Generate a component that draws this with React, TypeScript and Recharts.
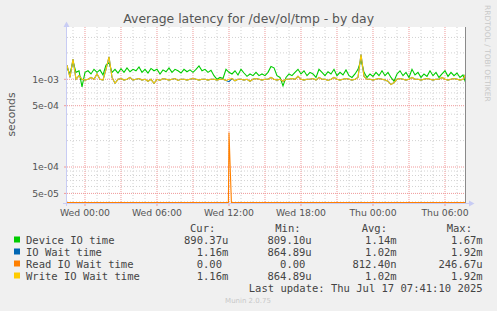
import React from 'react';
import { ComposedChart, Line, XAxis, YAxis, CartesianGrid } from 'recharts';

// ---- time grid (hours relative to Wed 00:00), 15-minute samples ----
const START_HOUR = -1.5;
const STEP_HOURS = 0.25;
const END_HOUR = 31.667;

// ---- series values, in milliseconds ----
const DEVICE_IO_MS = [
  1.35, 1.15, 1.6, 1.2, 1.25, 0.82, 1.2, 1.25, 1.15, 1.3,
  1.2, 1.28, 1.12, 1.45, 1.55, 1.2, 1.3, 1.18, 1.32, 1.2,
  1.35, 1.22, 1.3, 1.25, 1.38, 1.2, 1.3, 1.18, 1.33, 1.25,
  1.3, 1.15, 1.28, 1.22, 1.35, 1.2, 1.3, 1.25, 1.18, 1.3,
  1.22, 1.28, 1.2, 1.3, 1.42, 1.25, 1.3, 1.2, 1.27, 1.1,
  1.0, 1.05, 1.02, 1.3, 1.2, 1.15, 1.25, 1.12, 1.3, 1.18,
  1.08, 1.15, 1.1, 1.2, 1.1, 1.15, 1.1, 1.2, 1.4, 1.35,
  1.1, 1.05, 0.84, 1.05, 1.15, 1.1, 1.2, 1.3, 1.15, 1.25,
  1.1, 1.2, 1.15, 1.05, 1.3, 1.2, 1.1, 1.22, 1.15, 1.3,
  1.1, 1.2, 1.12, 1.28, 1.1, 1.05, 1.15, 1.3, 1.67, 1.2,
  1.05, 1.15, 1.08, 1.2, 1.1, 1.25, 1.1, 1.2, 1.05, 0.95,
  1.15, 1.25, 1.1, 1.2, 1.05, 1.3, 1.12, 1.2, 1.05, 1.15,
  1.08, 1.25, 1.1, 1.2, 1.05, 1.15, 1.25, 1.08, 1.2, 1.1,
  1.18, 1.05, 1.12, 0.89,
];

const IO_WAIT_MS = [
  1.45, 1.05, 1.7, 1.0, 1.1, 1.0, 0.98, 1.0, 1.05, 1.0,
  1.15, 1.0, 0.98, 1.3, 1.8, 1.05, 0.9, 1.0, 1.02, 0.98,
  1.0, 1.05, 0.98, 1.0, 1.02, 0.98, 1.0, 0.95, 1.0, 0.9,
  1.0, 0.97, 1.02, 1.0, 0.98, 1.0, 1.02, 0.97, 1.0, 1.0,
  0.98, 1.0, 1.02, 1.0, 0.98, 1.0, 1.0, 0.98, 1.0, 1.0,
  0.98, 1.0, 1.0, 0.97, 0.94, 1.02, 0.96, 1.0, 1.0, 0.98,
  1.0, 0.95, 1.0, 1.02, 1.0, 0.98, 1.0, 1.0, 1.05, 1.0,
  0.98, 1.0, 0.95, 1.0, 1.0, 1.02, 1.0, 1.08, 1.0, 0.98,
  1.0, 1.0, 1.02, 0.98, 1.05, 1.0, 1.0, 0.97, 1.0, 1.05,
  1.0, 0.98, 1.0, 1.02, 1.0, 0.98, 1.0, 1.05, 1.92, 1.08,
  1.0, 1.0, 0.98, 1.0, 1.02, 1.0, 0.98, 0.95, 0.87, 0.92,
  1.0, 1.02, 1.0, 0.98, 1.0, 1.05, 1.0, 1.0, 0.98, 1.0,
  1.02, 1.0, 0.98, 1.0, 1.0, 1.05, 1.0, 0.98, 1.0, 1.02,
  1.0, 0.98, 1.0, 1.16,
];

const WRITE_IO_WAIT_MS = [
  1.45, 1.05, 1.7, 1.0, 1.1, 1.0, 0.98, 1.0, 1.05, 1.0,
  1.15, 1.0, 0.98, 1.3, 1.8, 1.05, 0.9, 1.0, 1.02, 0.98,
  1.0, 1.05, 0.98, 1.0, 1.02, 0.98, 1.0, 0.95, 1.0, 0.9,
  1.0, 0.97, 1.02, 1.0, 0.98, 1.0, 1.02, 0.97, 1.0, 1.0,
  0.98, 1.0, 1.02, 1.0, 0.98, 1.0, 1.0, 0.98, 1.0, 1.0,
  0.98, 1.0, 1.0, 0.97, 1.0, 1.02, 0.96, 1.0, 1.0, 0.98,
  1.0, 0.95, 1.0, 1.02, 1.0, 0.98, 1.0, 1.0, 1.05, 1.0,
  0.98, 1.0, 0.95, 1.0, 1.0, 1.02, 1.0, 1.08, 1.0, 0.98,
  1.0, 1.0, 1.02, 0.98, 1.05, 1.0, 1.0, 0.97, 1.0, 1.05,
  1.0, 0.98, 1.0, 1.02, 1.0, 0.98, 1.0, 1.05, 1.92, 1.08,
  1.0, 1.0, 0.98, 1.0, 1.02, 1.0, 0.98, 0.95, 0.87, 0.92,
  1.0, 1.02, 1.0, 0.98, 1.0, 1.05, 1.0, 1.0, 0.98, 1.0,
  1.02, 1.0, 0.98, 1.0, 1.0, 1.05, 1.0, 0.98, 1.0, 1.02,
  1.0, 0.98, 1.0, 1.16,
];

const READ_TIMES_H = [-1.5, 11.95, 12.0, 12.2, 31.75];
const READ_IO_WAIT_MS = [0, 0, 0.24667, 0, 0];

// ---- legend ----
const SERIES_NAMES = ['Device IO time', 'IO Wait time', 'Read IO Wait time', 'Write IO Wait time'];
const SERIES_COLORS = ['#00CC00', '#0066B3', '#FF8000', '#FFCC00'];
const CUR_VALUES = ['890.37u', '1.16m', '0.00', '1.16m'];
const MIN_VALUES = ['809.10u', '864.89u', '0.00', '864.89u'];
const AVG_VALUES = ['1.14m', '1.02m', '812.40n', '1.02m'];
const MAX_VALUES = ['1.67m', '1.92m', '246.67u', '1.92m'];
const COLUMN_HEADERS = ['Cur:', 'Min:', 'Avg:', 'Max:'];

// ---- axes ----
const X_TICKS = [0, 6, 12, 18, 24, 30];
const X_TICK_LABELS = ['Wed 00:00', 'Wed 06:00', 'Wed 12:00', 'Wed 18:00', 'Thu 00:00', 'Thu 06:00'];
const X_MAJOR = [0, 3, 6, 9, 12, 15, 18, 21, 24, 27, 30];
const X_MINOR = [-1, 1, 2, 4, 5, 7, 8, 10, 11, 13, 14, 16, 17, 19, 20, 22, 23, 25, 26, 28, 29, 31];
const Y_TICKS = [5e-5, 1e-4, 5e-4, 1e-3];
const Y_TICK_LABELS = ['5e-05', '1e-04', '5e-04', '1e-03'];
const Y_MINOR = [4e-5, 6e-5, 7e-5, 8e-5, 9e-5, 2e-4, 3e-4, 4e-4, 6e-4, 7e-4, 8e-4, 9e-4, 2e-3, 3e-3];
const Y_MIN = 3.887e-5;
const Y_MAX = 3.947e-3;
const Y_FLOOR = Y_MIN * 1.015;

const W = 497;
const H = 311;
const TEXT = '#555555';
const MONO = "'DejaVu Sans Mono', monospace";
const SANS = "'DejaVu Sans', sans-serif";
const CHAR_W = 6.33;
const COL_HEAD_X = [190, 275.3, 361.7, 446.7];
const COL_END_X = [228.3, 311.7, 396.7, 482.7];
const ROW_BASE = [243.5, 255.5, 267.5, 279.5];
const MINOR_STROKE = '#D2D2D2';
const MAJOR_STROKE = '#F09A9A';

const GRID_Y = [...Y_MINOR, ...Y_TICKS];
const GRID_X = [...X_MINOR, ...X_MAJOR];
const N_MINOR_Y = Y_MINOR.length;
const N_MINOR_X = X_MINOR.length;

const gridLine = (nMinor: number) => (p: any) => {
  const major = p.index >= nMinor;
  return (
    <line
      key={p.key}
      x1={p.x1}
      y1={p.y1}
      x2={p.x2}
      y2={p.y2}
      stroke={major ? MAJOR_STROKE : MINOR_STROKE}
      strokeWidth={1}
      strokeDasharray={major ? '1 1' : '1 2'}
      fill="none"
    />
  );
};

export default function App() {
  const rows = DEVICE_IO_MS.map((v, i) => ({
    t: START_HOUR + i * STEP_HOURS,
    dev: v / 1000,
    io: IO_WAIT_MS[i] / 1000,
    write: WRITE_IO_WAIT_MS[i] / 1000,
  }));
  const readRows = READ_TIMES_H.map((t, i) => ({ t, read: READ_IO_WAIT_MS[i] / 1000 }));
  const cols = [CUR_VALUES, MIN_VALUES, AVG_VALUES, MAX_VALUES];
  const valueX = (s: string, c: number) => (/[0-9]$/.test(s) ? COL_END_X[c] - CHAR_W : COL_END_X[c]);

  return (
    <div style={{ position: 'absolute', left: 0, top: 0, width: W, height: H, background: '#F0F0F0', overflow: 'hidden' }}>
      <ComposedChart width={W} height={H} data={rows} margin={{ top: 27, right: 32, bottom: 78, left: 7 }}>
        <CartesianGrid
          fill="#FFFFFF"
          stroke={MINOR_STROKE}
          horizontalValues={GRID_Y}
          verticalValues={GRID_X}
          horizontal={gridLine(N_MINOR_Y)}
          vertical={gridLine(N_MINOR_X)}
        />
        <XAxis
          dataKey="t"
          type="number"
          domain={[START_HOUR, END_HOUR]}
          allowDataOverflow
          ticks={X_TICKS}
          interval={0}
          tickFormatter={(v: number) => X_TICK_LABELS[X_TICKS.indexOf(v)] ?? ''}
          height={30}
          axisLine={false}
          tickLine={{ stroke: MAJOR_STROKE }}
          tickSize={3}
          tickMargin={3}
          tick={{ fontSize: 9.3, fill: TEXT, fontFamily: SANS }}
        />
        <YAxis
          type="number"
          scale="log"
          domain={[Y_MIN, Y_MAX]}
          allowDataOverflow
          ticks={Y_TICKS}
          interval={0}
          tickFormatter={(v: number) => Y_TICK_LABELS[Y_TICKS.indexOf(v)] ?? ''}
          width={60}
          axisLine={false}
          tickLine={{ stroke: MAJOR_STROKE }}
          tickSize={3}
          tickMargin={5}
          tick={{ fontSize: 9.3, fill: TEXT, fontFamily: SANS }}
        />
        <Line type="linear" dataKey="dev" stroke={SERIES_COLORS[0]} strokeWidth={1.1} dot={false} activeDot={false} isAnimationActive={false} />
        <Line type="linear" dataKey="io" stroke={SERIES_COLORS[1]} strokeWidth={1.1} dot={false} activeDot={false} isAnimationActive={false} />
        <Line
          type="linear"
          data={readRows}
          dataKey={(d: any) => (d.read > 0 ? d.read : Y_FLOOR)}
          stroke={SERIES_COLORS[2]}
          strokeWidth={1.1}
          dot={false}
          activeDot={false}
          isAnimationActive={false}
        />
        <Line type="linear" dataKey="write" stroke={SERIES_COLORS[3]} strokeWidth={1.1} dot={false} activeDot={false} isAnimationActive={false} />
      </ComposedChart>

      <svg width={W} height={H} style={{ position: 'absolute', left: 0, top: 0, pointerEvents: 'none' }}>
        {/* axes and frame */}
        <line x1={66.5} y1={25} x2={66.5} y2={206} stroke="#C8CCF4" strokeWidth={1} />
        <polygon points="63.5,27 69.5,27 66.5,21.5" fill="#C8CCF4" />
        <line x1={63} y1={203.5} x2={470} y2={203.5} stroke="#C8CCF4" strokeWidth={1} />
        <polygon points="469,200.5 469,206.5 474.5,203.5" fill="#C8CCF4" />
        <line x1={465.5} y1={27} x2={465.5} y2={203} stroke="#8A8A8A" strokeWidth={1} />

        {/* title */}
        <text x={248.7} y={22.5} textAnchor="middle" fontFamily={SANS} fontSize={12.4} fill={TEXT}>
          Average latency for /dev/ol/tmp - by day
        </text>
        {/* y label */}
        <text transform="translate(15,114.5) rotate(-90)" textAnchor="middle" fontFamily={SANS} fontSize={10.8} fill={TEXT}>
          seconds
        </text>
        {/* watermark */}
        <text transform="translate(484.8,5) rotate(90)" textAnchor="start" fontFamily={SANS} fontSize={7.5} fill="#C8C8C8">
          RRDTOOL / TOBI OETIKER
        </text>

        {/* legend */}
        {COLUMN_HEADERS.map((h, c) => (
          <text key={h} x={COL_HEAD_X[c]} y={231.5} fontFamily={MONO} fontSize={10.5} fill="#444">
            {h}
          </text>
        ))}
        {SERIES_NAMES.map((name, r) => (
          <g key={name}>
            <rect x={14} y={ROW_BASE[r] - 7} width={6} height={6} fill={SERIES_COLORS[r]} />
            <text x={26} y={ROW_BASE[r]} fontFamily={MONO} fontSize={10.5} fill="#444">
              {name}
            </text>
            {cols.map((col, c) => (
              <text key={c} x={valueX(col[r], c)} y={ROW_BASE[r]} textAnchor="end" fontFamily={MONO} fontSize={10.5} fill="#444">
                {col[r]}
              </text>
            ))}
          </g>
        ))}
        <text x={482.7} y={291.5} textAnchor="end" fontFamily={MONO} fontSize={10.5} fill="#444">
          Last update: Thu Jul 17 07:41:10 2025
        </text>
        <text x={248} y={303} textAnchor="middle" fontFamily={SANS} fontSize={7} fill="#C8C8C8">
          Munin 2.0.75
        </text>
      </svg>
    </div>
  );
}
